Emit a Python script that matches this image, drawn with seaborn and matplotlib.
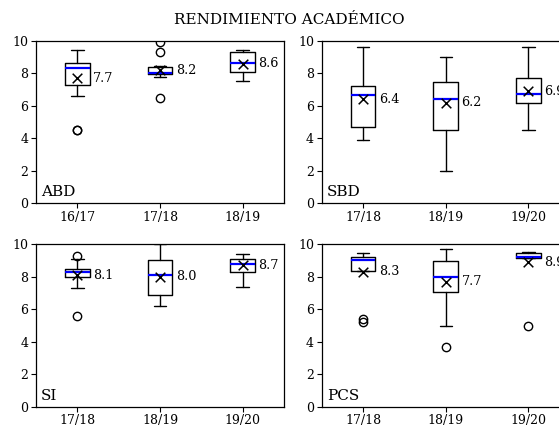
import matplotlib
matplotlib.use("Agg")
import matplotlib.pyplot as plt
import seaborn as sns
import pandas as pd

sns.set_style("ticks")
plt.rcParams["font.family"] = ["DejaVu Serif"]
plt.rcParams["text.color"] = "black"
plt.rcParams["xtick.color"] = "black"
plt.rcParams["ytick.color"] = "black"
plt.rcParams["axes.labelcolor"] = "black"
plt.rcParams["axes.edgecolor"] = "black"

title = "RENDIMIENTO ACADÉMICO"
panels = ["ABD", "SBD", "SI", "PCS"]
years = {
    "ABD": ["16/17", "17/18", "18/19"],
    "SBD": ["17/18", "18/19", "19/20"],
    "SI": ["17/18", "18/19", "19/20"],
    "PCS": ["17/18", "18/19", "19/20"],
}
whislo = {"ABD": [6.6, 7.8, 7.5], "SBD": [3.9, 2.0, 4.5],
          "SI": [7.3, 6.2, 7.4], "PCS": [8.35, 5.0, 9.15]}
q1 = {"ABD": [7.28, 7.94, 8.1], "SBD": [4.72, 4.49, 6.2],
      "SI": [8.0, 6.87, 8.32], "PCS": [8.36, 7.08, 9.16]}
med = {"ABD": [8.31, 8.04, 8.62], "SBD": [6.64, 6.45, 6.76],
       "SI": [8.3, 8.13, 8.79], "PCS": [9.01, 7.99, 9.22]}
q3 = {"ABD": [8.66, 8.41, 9.32], "SBD": [7.2, 7.44, 7.71],
      "SI": [8.5, 9.06, 9.08], "PCS": [9.24, 8.99, 9.49]}
whishi = {"ABD": [9.42, 8.45, 9.42], "SBD": [9.63, 8.99, 9.63],
          "SI": [9.12, 10.0, 9.4], "PCS": [9.49, 9.69, 9.5]}
means = {"ABD": [7.7, 8.2, 8.6], "SBD": [6.4, 6.2, 6.9],
         "SI": [8.1, 8.0, 8.7], "PCS": [8.3, 7.7, 8.9]}
fliers = {"ABD": [[4.5, 4.5], [9.96, 9.32, 6.5], []],
          "SBD": [[], [], []],
          "SI": [[9.3, 5.6], [], []],
          "PCS": [[5.38, 5.2], [3.7], [5.0]]}

W, H = 559, 428
fig = plt.figure(figsize=(W / 100, H / 100), dpi=100)

aw = 248 / W
ah = 162.4 / H
positions = {
    "ABD": (36 / W, (H - 203.3) / H),
    "SBD": (321.7 / W, (H - 203.3) / H),
    "SI": (36 / W, (H - 406.7) / H),
    "PCS": (321.7 / W, (H - 406.7) / H),
}

for p in panels:
    ax = fig.add_axes([positions[p][0], positions[p][1], aw, ah])
    stats = []
    for i, yr in enumerate(years[p]):
        stats.append(dict(label=yr, whislo=whislo[p][i], q1=q1[p][i], med=med[p][i],
                          q3=q3[p][i], whishi=whishi[p][i], mean=means[p][i],
                          fliers=fliers[p][i]))
    ax.bxp(stats, positions=[1, 2, 3], widths=0.3, showmeans=False,
           boxprops=dict(color="black", linewidth=1.0),
           whiskerprops=dict(color="black", linewidth=1.0),
           capprops=dict(color="black", linewidth=1.0),
           medianprops=dict(color="blue", linewidth=1.6),
           flierprops=dict(marker="o", markerfacecolor="none",
                           markeredgecolor="black", markersize=6, markeredgewidth=1.0))
    df = pd.DataFrame({"pos": [1, 2, 3], "mean": means[p]})
    sns.scatterplot(data=df, x="pos", y="mean", marker="x", color="black",
                    s=48, linewidth=1.1, ax=ax, zorder=5)
    for i, m in enumerate(means[p]):
        ax.text(i + 1 + 0.19, m, f"{m:.1f}", va="center", ha="left", fontsize=9.2)
    ax.set_xlim(0.5, 3.5)
    ax.set_ylim(0, 10)
    ax.set_xticks([1, 2, 3])
    ax.set_xticklabels(years[p])
    ax.set_yticks([0, 2, 4, 6, 8, 10])
    ax.set_xlabel("")
    ax.set_ylabel("")
    ax.tick_params(labelsize=9, length=3.5, width=0.8, pad=2, colors="black")
    for s in ax.spines.values():
        s.set_visible(True)
        s.set_linewidth(0.9)
        s.set_color("black")
    ax.text(0.02, 0.025, p, transform=ax.transAxes, fontsize=11, ha="left", va="bottom")

fig.text(289 / W, 1 - 20 / H, title, ha="center", va="center", fontsize=11)
fig.savefig("out.png", dpi=100)
